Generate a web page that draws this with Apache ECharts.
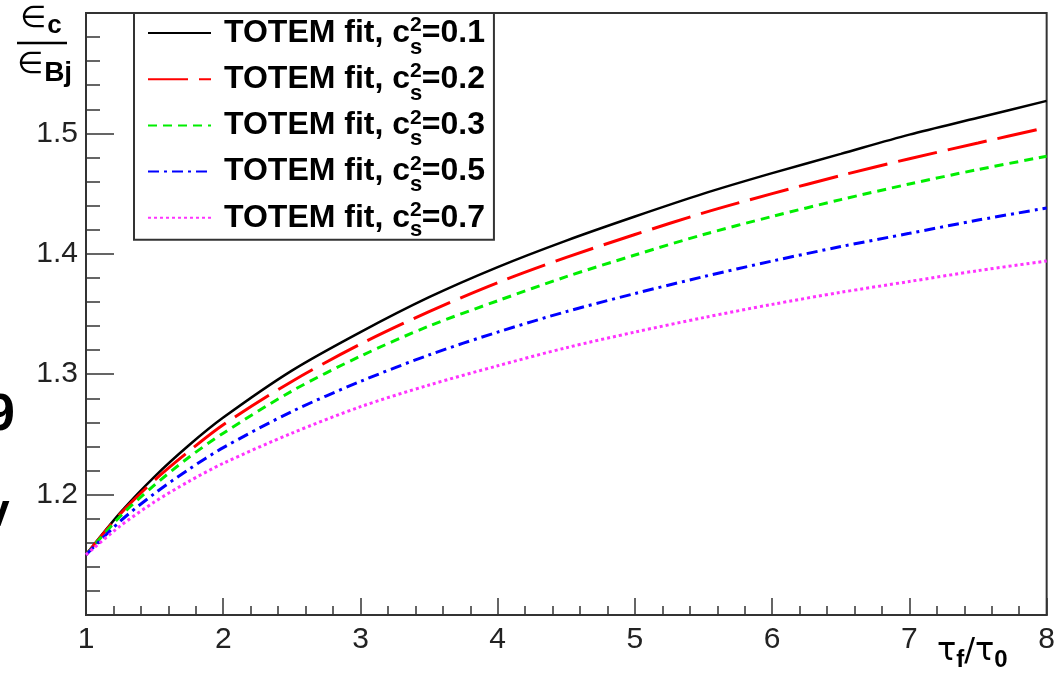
<!DOCTYPE html>
<html>
<head>
<meta charset="utf-8">
<script src="https://cdn.jsdelivr.net/npm/echarts@6/dist/echarts.min.js"></script>
<style>
  html, body { margin: 0; padding: 0; background: #fff; }
  #chart { width: 1058px; height: 676px; }
</style>
</head>
<body>
<div id="chart"></div>
<script>
// tau_f / tau_0 sample points
var tauRatio = [1, 1.25, 1.5, 1.75, 2, 2.5, 3, 3.5, 4, 4.5, 5, 5.5, 6, 6.5, 7, 7.5, 8];
// epsilon_c / epsilon_Bj
var fitCs01 = [1.150, 1.185, 1.215, 1.241, 1.264, 1.303, 1.335, 1.364, 1.389, 1.411, 1.431, 1.450, 1.467, 1.483, 1.499, 1.513, 1.527];
var fitCs02 = [1.150, 1.184, 1.212, 1.236, 1.258, 1.294, 1.325, 1.352, 1.376, 1.397, 1.416, 1.434, 1.450, 1.465, 1.479, 1.492, 1.505];
var fitCs03 = [1.150, 1.182, 1.208, 1.231, 1.251, 1.286, 1.315, 1.340, 1.361, 1.381, 1.399, 1.416, 1.431, 1.445, 1.458, 1.470, 1.481];
var fitCs05 = [1.150, 1.178, 1.201, 1.221, 1.239, 1.269, 1.294, 1.316, 1.335, 1.352, 1.367, 1.381, 1.394, 1.406, 1.417, 1.428, 1.438];
var fitCs07 = [1.150, 1.174, 1.194, 1.211, 1.226, 1.251, 1.273, 1.291, 1.307, 1.322, 1.335, 1.347, 1.358, 1.368, 1.377, 1.386, 1.394];
var csValues = ['0.1', '0.2', '0.3', '0.5', '0.7'];
var xTicks = [1, 2, 3, 4, 5, 6, 7, 8];
var yTicks = [1.2, 1.3, 1.4, 1.5];

var font = 'Liberation Sans, Arial, sans-serif';
var myChart = echarts.init(document.getElementById('chart'));

function pairs(ys) {
    var out = [];
    for (var i = 0; i < tauRatio.length; i++) {
        out.push([tauRatio[i], ys[i]]);
    }
    return out;
}

var curves = [fitCs01, fitCs02, fitCs03, fitCs05, fitCs07];
var colors = ['#000000', '#ff0000', '#00ee00', '#0000ff', '#ff33ff'];
var dashes = ['solid', [40, 11], [9, 6], [11, 5, 3, 5], [3, 3]];
var widths = [2.5, 3, 3, 3, 3];

var lineSeries = [];
for (var i = 0; i < curves.length; i++) {
    lineSeries.push({
        name: 'TOTEM fit, cs2=' + csValues[i],
        type: 'line',
        data: pairs(curves[i]),
        smooth: 0.3,
        symbol: 'none',
        showSymbol: false,
        silent: true,
        lineStyle: { color: colors[i], width: widths[i], type: dashes[i] },
        itemStyle: { color: colors[i] }
    });
}

// legend subscripts "s" under the superscript 2
var subS = [];
for (var k = 0; k < csValues.length; k++) {
    subS.push({
        type: 'text', left: 410, top: 37 + k * 45.6, z: 100,
        style: { text: 's', fontSize: 22, fontWeight: 'bold', fontFamily: font, fill: '#000' }
    });
}

var option = {
    backgroundColor: '#fff',
    animation: false,
    grid: {
        left: 86, top: 13, right: 9, bottom: 61,
        show: true, borderColor: '#333', borderWidth: 2, backgroundColor: '#fff'
    },
    xAxis: {
        type: 'value', min: 1, max: 8, interval: 1,
        axisLine: { show: true, onZero: false, lineStyle: { color: '#333', width: 2 } },
        axisTick: { show: true, inside: true, length: 17, lineStyle: { color: '#333', width: 1.5 } },
        minorTick: { show: true, splitNumber: 5, length: 9, lineStyle: { color: '#333', width: 1.5 } },
        axisLabel: { fontSize: 30, color: '#222', fontFamily: font, margin: 10 },
        splitLine: { show: false }
    },
    yAxis: {
        type: 'value', min: 1.1, max: 1.6, interval: 0.1,
        axisLine: { show: true, onZero: false, lineStyle: { color: '#333', width: 2 } },
        axisTick: { show: true, inside: true, length: 28, lineStyle: { color: '#333', width: 1.5 } },
        minorTick: { show: true, splitNumber: 5, length: 14, lineStyle: { color: '#333', width: 1.5 } },
        axisLabel: {
            fontSize: 30, color: '#222', fontFamily: font, margin: 8,
            formatter: function (v) {
                for (var j = 0; j < yTicks.length; j++) {
                    if (Math.abs(v - yTicks[j]) < 1e-6) return yTicks[j].toFixed(1);
                }
                return '';
            }
        },
        splitLine: { show: false }
    },
    legend: {
        orient: 'vertical',
        left: 134, top: 13,
        padding: [2, 9, 6, 13],
        itemWidth: 63, itemHeight: 14, itemGap: 12.2,
        borderColor: '#333', borderWidth: 2, backgroundColor: '#fff',
        selectedMode: false,
        itemStyle: { opacity: 0 },
        formatter: function (name) {
            var v = name.split('=')[1];
            return '{h|TOTEM fit, c}{sup|2}{t|=' + v + '}';
        },
        textStyle: {
            rich: {
                h: { fontSize: 32, fontWeight: 'bold', fontFamily: font, color: '#000', lineHeight: 36, padding: [0, 0, 0, 8] },
                sup: { fontSize: 21, fontWeight: 'bold', fontFamily: font, color: '#000', lineHeight: 20, verticalAlign: 'top' },
                t: { fontSize: 32, fontWeight: 'bold', fontFamily: font, color: '#000', lineHeight: 36 }
            }
        },
        data: lineSeries.map(function (s) { return s.name; })
    },
    series: lineSeries,
    graphic: [
        { type: 'text', left: 20, top: 4, style: {
            text: '{e|∈}{s|c}',
            rich: {
                e: { fontSize: 30, fontFamily: 'DejaVu Sans', fill: '#000' },
                s: { fontSize: 26, fontWeight: 'bold', fontFamily: font, fill: '#000', padding: [14, 0, 0, 1] }
            } } },
        { type: 'line', shape: { x1: 17, y1: 43, x2: 67, y2: 43 }, style: { stroke: '#000', lineWidth: 2.5 } },
        { type: 'text', left: 17, top: 50, style: {
            text: '{e|∈}{s|Bj}',
            rich: {
                e: { fontSize: 30, fontFamily: 'DejaVu Sans', fill: '#000' },
                s: { fontSize: 28, fontWeight: 'bold', fontFamily: font, fill: '#000', padding: [16, 0, 0, 1] }
            } } },
        { type: 'text', left: 937, top: 636, style: {
            text: '{g|τ}{s|f}{g|/τ}{s|0}',
            rich: {
                g: { fontSize: 32, fontFamily: 'DejaVu Sans', fill: '#000' },
                s: { fontSize: 24, fontWeight: 'bold', fontFamily: font, fill: '#000', padding: [16, 0, 0, 0] }
            } } },
        { type: 'text', left: -14, top: 390, style: { text: '9', fontSize: 52, fontWeight: 'bold', fontFamily: font, fill: '#000' } },
        { type: 'text', left: -16, top: 490, style: { text: 'v', fontSize: 46, fontWeight: 'bold', fontFamily: font, fill: '#000' } }
    ].concat(subS)
};

myChart.setOption(option);
</script>
</body>
</html>
